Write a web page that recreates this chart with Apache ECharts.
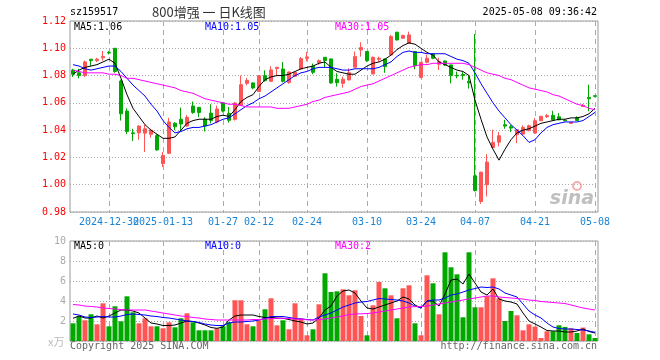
<!DOCTYPE html>
<html>
<head>
<meta charset="utf-8">
<script src="https://cdn.jsdelivr.net/npm/echarts@6/dist/echarts.min.js"></script>
<style>html,body{margin:0;padding:0;background:#fff}#c{width:660px;height:360px}</style>
</head>
<body>
<div id="c"></div>
<script>
const dates = [
 '2024-12-20','2024-12-23','2024-12-24','2024-12-25','2024-12-26','2024-12-27','2024-12-30','2024-12-31',
 '2025-01-02','2025-01-03','2025-01-06','2025-01-07','2025-01-08','2025-01-09','2025-01-10','2025-01-13',
 '2025-01-14','2025-01-15','2025-01-16','2025-01-17','2025-01-20','2025-01-21','2025-01-22','2025-01-23',
 '2025-01-24','2025-01-27','2025-02-05','2025-02-06','2025-02-07','2025-02-10','2025-02-11','2025-02-12',
 '2025-02-13','2025-02-14','2025-02-17','2025-02-18','2025-02-19','2025-02-20','2025-02-21','2025-02-24',
 '2025-02-25','2025-02-26','2025-02-27','2025-02-28','2025-03-03','2025-03-04','2025-03-05','2025-03-06',
 '2025-03-07','2025-03-10','2025-03-11','2025-03-12','2025-03-13','2025-03-14','2025-03-17','2025-03-18',
 '2025-03-19','2025-03-20','2025-03-24','2025-03-25','2025-03-26','2025-03-27','2025-03-28','2025-03-31',
 '2025-04-01','2025-04-02','2025-04-03','2025-04-07','2025-04-08','2025-04-09','2025-04-10','2025-04-11',
 '2025-04-14','2025-04-15','2025-04-16','2025-04-17','2025-04-18','2025-04-21','2025-04-22','2025-04-23',
 '2025-04-24','2025-04-25','2025-04-28','2025-04-29','2025-04-30','2025-05-06','2025-05-07','2025-05-08'];

const opens = [1.084,1.082,1.080,1.092,1.091,1.093,1.097,1.100,1.076,1.054,
 1.038,1.038,1.0378,1.037,1.036,1.0155,1.023,1.045,1.048,1.043,
 1.0577,1.0567,1.048,1.0525,1.046,1.060,1.0523,1.0479,1.0582,1.0743,
 1.0746,1.0684,1.0799,1.0758,1.0851,1.0848,1.0750,1.0795,1.0848,1.0927,
 1.0868,1.0895,1.0934,1.0922,1.0773,1.0743,1.0768,1.0861,1.0988,1.0976,
 1.0812,1.0919,1.0922,1.0951,1.1118,1.1074,1.1037,1.0976,1.0787,1.0897,
 1.0958,1.0883,1.0907,1.0878,1.0802,1.0809,1.0758,1.0065,0.9877,1.000,
 1.0273,1.0312,1.0440,1.0425,1.0366,1.0371,1.0396,1.0379,1.0469,1.0498,
 1.0508,1.0498,1.0474,1.0450,1.0489,1.0574,1.0640,1.0652];
const closes = [1.081,1.080,1.090,1.091,1.092,1.094,1.0965,1.083,1.052,1.039,
 1.0375,1.043,1.041,1.040,1.0255,1.0215,1.046,1.0425,1.0445,1.0494,
 1.053,1.053,1.043,1.047,1.0555,1.054,1.0472,1.0599,1.0733,1.0765,
 1.0709,1.0799,1.0763,1.0841,1.0861,1.0758,1.0826,1.0824,1.0924,1.0937,
 1.0824,1.0909,1.0910,1.0746,1.0748,1.0773,1.0821,1.0939,1.1005,1.0910,
 1.0934,1.0927,1.0866,1.1086,1.1061,1.1093,1.1098,1.0873,1.0897,1.0927,
 1.0927,1.0902,1.0878,1.0800,1.0797,1.0800,1.0746,0.9958,1.0092,1.0166,
 1.0310,1.0359,1.043,1.0415,1.0403,1.042,1.0432,1.0469,1.0501,1.0506,
 1.0476,1.0476,1.0469,1.0457,1.0471,1.0582,1.063,1.0648];
const lows = [1.079,1.078,1.079,1.087,1.090,1.091,1.0955,1.082,1.047,1.037,
 1.032,1.033,1.024,1.0345,1.025,1.013,1.0225,1.040,1.0395,1.0425,
 1.052,1.0495,1.039,1.045,1.045,1.053,1.0455,1.047,1.058,1.0728,
 1.070,1.068,1.0755,1.0755,1.0799,1.075,1.074,1.079,1.0845,1.0905,
 1.081,1.088,1.0863,1.074,1.0719,1.0711,1.0765,1.0858,1.0939,1.090,
 1.081,1.0902,1.0821,1.0948,1.1058,1.107,1.1035,1.0846,1.078,1.089,
 1.092,1.0841,1.087,1.0743,1.078,1.077,1.0704,0.995,0.986,0.9914,
 1.027,1.0281,1.041,1.0386,1.0305,1.0368,1.0393,1.0375,1.0467,1.0489,
 1.047,1.0472,1.0465,1.0445,1.0469,1.057,1.0538,1.064];
const highs = [1.085,1.085,1.091,1.092,1.093,1.098,1.098,1.100,1.077,1.056,
 1.041,1.0435,1.044,1.041,1.037,1.024,1.049,1.046,1.0565,1.051,
 1.061,1.057,1.0495,1.059,1.058,1.0605,1.057,1.0605,1.080,1.0782,
 1.075,1.0802,1.0838,1.0868,1.0862,1.090,1.083,1.0827,1.0936,1.0973,
 1.0888,1.0917,1.0935,1.0925,1.0817,1.0792,1.0853,1.0976,1.1044,1.098,
 1.0939,1.0939,1.0925,1.1098,1.112,1.110,1.1122,1.098,1.090,1.0951,
 1.096,1.0931,1.091,1.088,1.0829,1.0825,1.080,1.1105,1.0095,1.0224,
 1.0403,1.0386,1.0476,1.044,1.0405,1.0435,1.044,1.0489,1.0505,1.0518,
 1.0542,1.0525,1.048,1.046,1.0501,1.0591,1.0733,1.0653];

const ma5 = [1.081,1.084,1.086,1.087,1.088,1.090,1.092,1.089,1.078,1.066,
 1.056,1.050,1.044,1.040,1.037,1.034,1.034,1.035,1.040,1.045,
 1.047,1.048,1.048,1.048,1.050,1.051,1.050,1.055,1.061,1.064,
 1.066,1.072,1.077,1.079,1.080,1.080,1.081,1.083,1.085,1.086,
 1.087,1.089,1.090,1.086,1.083,1.082,1.081,1.081,1.084,1.087,
 1.089,1.090,1.092,1.095,1.099,1.102,1.104,1.103,1.100,1.097,
 1.095,1.090,1.088,1.086,1.084,1.083,1.080,1.062,1.048,1.035,
 1.026,1.018,1.026,1.033,1.038,1.040,1.041,1.043,1.045,1.046,
 1.047,1.048,1.048,1.049,1.049,1.050,1.052,1.056];
const ma10 = [1.088,1.087,1.085,1.084,1.085,1.086,1.087,1.087,1.083,1.078,
 1.073,1.069,1.065,1.059,1.054,1.047,1.042,1.038,1.039,1.041,
 1.042,1.042,1.043,1.044,1.046,1.048,1.049,1.052,1.055,1.058,
 1.060,1.063,1.065,1.068,1.071,1.074,1.077,1.080,1.082,1.083,
 1.085,1.086,1.086,1.086,1.085,1.084,1.084,1.085,1.085,1.085,
 1.085,1.086,1.088,1.090,1.094,1.097,1.098,1.097,1.097,1.096,
 1.096,1.096,1.096,1.094,1.092,1.091,1.089,1.082,1.074,1.067,
 1.060,1.054,1.049,1.044,1.040,1.036,1.031,1.033,1.038,1.042,
 1.044,1.045,1.046,1.046,1.046,1.047,1.050,1.053];
const ma30 = [1.084,1.083,1.082,1.082,1.082,1.082,1.081,1.081,1.080,1.078,
 1.078,1.077,1.076,1.075,1.074,1.073,1.072,1.071,1.069,1.068,
 1.067,1.065,1.063,1.062,1.061,1.060,1.059,1.059,1.058,1.057,
 1.057,1.057,1.057,1.057,1.056,1.056,1.056,1.057,1.058,1.059,
 1.061,1.062,1.064,1.065,1.066,1.067,1.068,1.070,1.072,1.073,
 1.074,1.076,1.078,1.080,1.082,1.084,1.086,1.087,1.088,1.088,
 1.089,1.089,1.089,1.089,1.089,1.089,1.088,1.086,1.084,1.082,
 1.081,1.080,1.078,1.077,1.075,1.073,1.071,1.070,1.069,1.068,
 1.066,1.065,1.063,1.061,1.059,1.058,1.056,1.055];

const volumes = [1.77,2.47,2.07,2.67,1.67,3.77,1.47,3.47,1.97,4.47,
 2.87,1.77,2.27,1.47,1.47,1.27,1.87,1.37,2.27,2.77,
 1.87,1.07,1.07,1.07,1.27,1.47,1.87,4.07,4.07,1.67,
 1.47,2.07,3.17,4.27,1.57,2.07,1.17,3.77,2.27,0.57,
 1.17,3.67,6.77,4.9,4.97,5.17,4.57,5.07,2.5,0.57,
 3.57,5.9,5.27,4.57,2.27,5.27,5.57,1.77,0.57,6.57,
 5.77,2.67,8.87,7.37,6.67,2.37,8.87,3.37,3.37,4.47,
 6.27,4.27,2.0,3.0,2.57,1.07,1.67,1.44,0.3,0.97,
 0.97,1.57,1.4,1.27,0.8,1.34,0.67,0.3];
const volMa5 = [2.27,2.5,2.3,2.3,2.5,2.3,2.5,2.8,3.1,3.1,
 3.0,2.8,2.3,1.8,1.7,1.55,1.55,1.6,1.8,2.0,
 1.95,1.8,1.6,1.35,1.27,1.4,2.1,2.5,2.6,2.6,
 2.6,2.45,2.35,2.35,2.3,2.27,2.15,2.0,1.9,1.7,
 1.8,2.3,3.1,3.5,4.5,5.0,5.1,4.8,4.0,3.3,
 3.2,3.4,3.6,3.8,4.0,4.4,4.2,3.6,3.3,4.0,
 4.0,3.5,4.7,6.1,6.2,5.7,6.7,5.8,4.9,4.6,
 5.2,4.2,4.0,3.9,3.7,2.8,2.0,1.7,1.4,1.05,
 1.0,1.0,0.9,0.9,1.0,1.2,0.95,0.8];
const volMa10 = [2.7,2.6,2.4,2.35,2.4,2.45,2.4,2.4,2.5,2.65,
 2.7,2.65,2.6,2.5,2.45,2.35,2.3,2.2,2.1,2.0,
 1.95,1.85,1.7,1.6,1.55,1.55,1.8,1.9,1.9,1.95,
 2.0,2.1,2.25,2.45,2.45,2.45,2.35,2.25,2.2,2.15,
 2.1,2.4,2.6,2.8,3.1,3.4,3.6,3.8,3.9,3.95,
 4.1,4.25,4.2,4.15,4.1,4.0,3.8,3.5,3.3,4.0,
 4.1,4.1,4.3,4.6,4.7,4.9,5.1,5.25,5.4,5.35,
 5.4,5.2,4.8,4.6,4.4,3.7,3.0,2.6,2.3,1.8,
 1.4,1.25,1.2,1.2,1.15,1.1,1.0,0.87];
const volMa30 = [3.65,3.6,3.5,3.45,3.4,3.3,3.25,3.2,3.15,3.1,
 3.1,3.1,3.1,3.0,2.9,2.8,2.7,2.6,2.5,2.45,
 2.35,2.3,2.2,2.15,2.1,2.1,2.1,2.1,2.1,2.1,
 2.15,2.15,2.2,2.25,2.25,2.27,2.25,2.2,2.17,2.12,
 2.1,2.15,2.2,2.3,2.4,2.5,2.65,2.7,2.72,2.75,
 2.8,2.9,3.0,3.1,3.2,3.3,3.4,3.44,3.44,3.5,
 3.6,3.7,3.8,3.9,4.0,4.1,4.2,4.3,4.4,4.5,
 4.5,4.4,4.35,4.3,4.25,4.2,4.1,4.05,3.95,3.9,
 3.85,3.8,3.75,3.6,3.45,3.3,3.2,3.1];

const tickDates = ['2024-12-30','2025-01-13','2025-01-27','2025-02-12','2025-02-24','2025-03-10','2025-03-24','2025-04-07','2025-04-21','2025-05-08'];
const tickLabels = ['2024-12-30','2025-01-13','01-27','02-12','02-24','03-10','03-24','04-07','04-21','05-08'];

const RED = '#ff5555', GREEN = '#00a800';
const MONO = '"DejaVu Sans Mono", "Liberation Mono", monospace';
const isTick = (i, v) => tickDates.indexOf(v) >= 0;
// labels are split over two axes so that the two overlapping long labels both show
const isTickA = (i, v) => tickDates.indexOf(v) >= 0 && tickDates.indexOf(v) !== 1;
const isTickB = (i, v) => tickDates.indexOf(v) === 1;
const labelFmt = v => tickLabels[tickDates.indexOf(v)] || '';

const chart = echarts.init(document.getElementById('c'), null, {renderer: 'canvas'});

function txt(text, x, y, fill, opts) {
  opts = opts || {};
  return {type: 'text', x: x, y: y, silent: true, z: 10,
    style: {text: text, fill: fill, font: opts.font || ('10px ' + MONO),
      align: opts.align || 'left', verticalAlign: 'middle'}};
}

const xSplit = {show: true, interval: isTick, alignWithLabel: true, lineStyle: {color: '#aaa', type: [5, 4], width: 1}};
const xLabelBase = {hideOverlap: false, showMinLabel: true, showMaxLabel: true,
  color: '#1a84d4', fontFamily: MONO, fontSize: 10, margin: 5, formatter: labelFmt};

chart.setOption({
  animation: false,
  backgroundColor: '#fff',
  grid: [
    {left: 70, top: 21, width: 528, height: 191, show: true, borderColor: '#999', borderWidth: 1, backgroundColor: 'rgba(0,0,0,0)'},
    {left: 70, top: 241, width: 528, height: 100, show: true, borderColor: '#999', borderWidth: 1, backgroundColor: 'rgba(0,0,0,0)'}
  ],
  xAxis: [
    {type: 'category', gridIndex: 0, data: dates, boundaryGap: true, position: 'bottom', offset: 0,
     axisLine: {show: false}, axisTick: {show: false, alignWithLabel: true},
     axisLabel: Object.assign({interval: isTickA}, xLabelBase),
     splitLine: xSplit},
    {type: 'category', gridIndex: 1, data: dates, boundaryGap: true,
     axisLine: {show: false}, axisTick: {show: false, alignWithLabel: true},
     axisLabel: {show: false, interval: isTick},
     splitLine: xSplit},
    {type: 'category', gridIndex: 0, data: dates, boundaryGap: true, position: 'bottom', offset: 0,
     axisLine: {show: false}, axisTick: {show: false},
     axisLabel: Object.assign({interval: isTickB}, xLabelBase),
     splitLine: {show: false}}
  ],
  yAxis: [
    {type: 'value', gridIndex: 0, min: 0.98, max: 1.12, interval: 0.02, scale: true,
     axisLine: {show: false}, axisTick: {show: false},
     axisLabel: {formatter: v => v.toFixed(2), color: '#ff0000', fontFamily: MONO, fontSize: 10, margin: 4},
     splitLine: {show: true, lineStyle: {color: '#aaa', type: [1, 2], width: 1}}},
    {type: 'value', gridIndex: 1, min: 0, max: 10, interval: 2,
     axisLine: {show: false}, axisTick: {show: false},
     axisLabel: {formatter: v => v === 0 ? '' : String(v), color: '#aaa', fontFamily: MONO, fontSize: 10, margin: 4},
     splitLine: {show: true, lineStyle: {color: '#aaa', type: [1, 2], width: 1}}}
  ],
  series: [
    {type: 'candlestick', xAxisIndex: 0, yAxisIndex: 0, barWidth: 4,
     data: dates.map((d, i) => [opens[i], closes[i], lows[i], highs[i]]),
     itemStyle: {color: RED, color0: GREEN, borderColor: RED, borderColor0: GREEN, borderWidth: 1}},
    {type: 'line', xAxisIndex: 0, yAxisIndex: 0, data: ma5, symbol: 'none', z: 5, lineStyle: {color: '#000', width: 1}},
    {type: 'line', xAxisIndex: 0, yAxisIndex: 0, data: ma10, symbol: 'none', z: 5, lineStyle: {color: '#0000ff', width: 1}},
    {type: 'line', xAxisIndex: 0, yAxisIndex: 0, data: ma30, symbol: 'none', z: 5, lineStyle: {color: '#ff00ff', width: 1}},
    {type: 'bar', xAxisIndex: 1, yAxisIndex: 1, barWidth: 5,
     data: volumes.map((v, i) => ({value: v, itemStyle: {color: closes[i] >= opens[i] ? RED : GREEN}}))},
    {type: 'line', xAxisIndex: 1, yAxisIndex: 1, data: volMa5, symbol: 'none', z: 5, lineStyle: {color: '#000', width: 1}},
    {type: 'line', xAxisIndex: 1, yAxisIndex: 1, data: volMa10, symbol: 'none', z: 5, lineStyle: {color: '#0000ff', width: 1}},
    {type: 'line', xAxisIndex: 1, yAxisIndex: 1, data: volMa30, symbol: 'none', z: 5, lineStyle: {color: '#ff00ff', width: 1}}
  ],
  graphic: [
    txt('sz159517', 70, 12, '#000'),
    txt('800增强 一 日K线图', 152, 12, '#333', {font: '13px "Noto Sans CJK SC"'}),
    txt('2025-05-08 09:36:42', 597, 12, '#000', {align: 'right'}),
    txt('MA5:1.06', 74, 27, '#000'),
    txt('MA10:1.05', 205, 27, '#0000ff'),
    txt('MA30:1.05', 335, 27, '#ff00ff'),
    txt('MA5:0', 74, 246, '#000'),
    txt('MA10:0', 205, 246, '#0000ff'),
    txt('MA30:2', 335, 246, '#ff00ff'),
    txt('x万', 48, 342, '#bbb', {font: '11px "Noto Sans CJK SC"'}),
    txt('Copyright 2025 SINA.COM', 70, 346, '#666'),
    txt('http://finance.sina.com.cn', 597, 346, '#666', {align: 'right'}),
    txt('sina', 594, 199, 'rgba(170,170,170,0.75)', {align: 'right', font: 'italic bold 19px "DejaVu Sans"'}),
    {type: 'circle', silent: true, z: 9, shape: {cx: 577, cy: 186, r: 4}, style: {fill: 'none', stroke: 'rgba(240,120,120,0.6)', lineWidth: 2}}
  ]
});
</script>
</body>
</html>
